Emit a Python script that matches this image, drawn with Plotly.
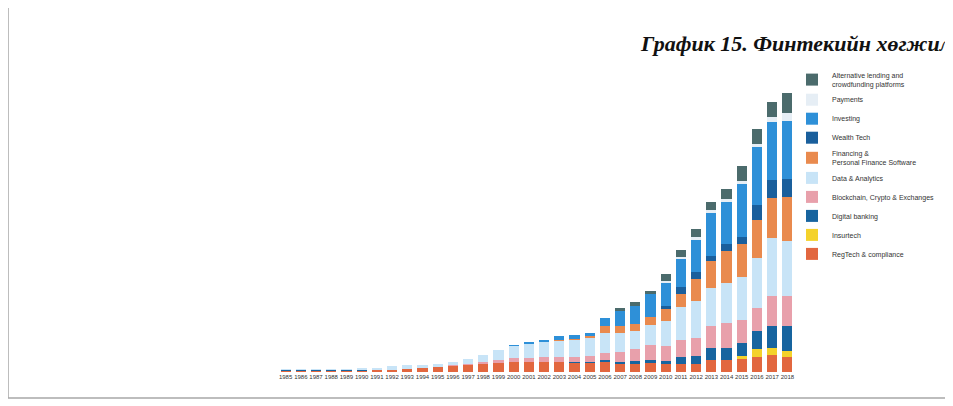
import plotly.graph_objects as go

years = [str(y) for y in range(1985, 2019)]

# segment values (stacked, bottom -> top)
regtech = [15, 15, 15, 15, 15, 15, 20, 20, 30, 40, 50, 60, 70, 80, 90, 100, 100, 100, 100, 90, 90, 100, 80, 80, 90, 80, 80, 80, 120, 120, 130, 150, 170, 150]
insurtech = [0, 0, 0, 0, 0, 0, 0, 0, 0, 0, 0, 0, 0, 0, 0, 0, 0, 0, 0, 0, 0, 0, 0, 0, 0, 0, 0, 0, 0, 0, 30, 80, 70, 60]
digital_bank = [5, 5, 5, 5, 5, 5, 5, 0, 0, 0, 0, 0, 0, 0, 0, 0, 0, 0, 0, 10, 10, 20, 20, 30, 30, 30, 70, 80, 120, 120, 130, 180, 220, 250]
blockchain = [0, 0, 0, 0, 0, 0, 0, 0, 0, 0, 0, 10, 10, 20, 30, 40, 40, 50, 50, 50, 60, 70, 100, 120, 150, 150, 170, 180, 220, 250, 230, 230, 300, 300]
data_analytics = [10, 10, 10, 10, 10, 15, 15, 40, 40, 30, 30, 30, 50, 70, 100, 120, 140, 150, 160, 170, 180, 200, 190, 180, 200, 250, 330, 370, 380, 400, 430, 500, 580, 550]
financing = [0, 0, 0, 0, 0, 0, 0, 0, 0, 0, 0, 0, 0, 0, 0, 0, 0, 0, 10, 10, 20, 70, 70, 70, 80, 120, 130, 220, 270, 320, 330, 380, 400, 440]
wealth_tech = [0, 0, 0, 0, 0, 0, 0, 0, 0, 0, 0, 0, 0, 0, 0, 0, 0, 0, 0, 0, 0, 0, 0, 0, 0, 30, 70, 70, 50, 70, 70, 150, 180, 180]
investing = [0, 0, 0, 0, 0, 0, 0, 0, 0, 0, 0, 0, 0, 0, 0, 10, 20, 20, 40, 40, 30, 80, 150, 180, 230, 230, 280, 320, 430, 420, 530, 580, 580, 580]
payments = [0, 0, 0, 0, 0, 0, 0, 0, 0, 0, 0, 0, 0, 0, 0, 0, 0, 0, 0, 0, 0, 0, 0, 0, 0, 20, 20, 30, 30, 30, 30, 30, 50, 80]
alt_lending = [0, 0, 0, 0, 0, 0, 0, 0, 0, 0, 0, 0, 0, 0, 0, 0, 0, 0, 0, 0, 0, 0, 30, 40, 30, 70, 70, 80, 80, 100, 150, 150, 150, 200]

series = [
    ("RegTech & compliance", regtech, "#e2673f"),
    ("Insurtech", insurtech, "#f4d22b"),
    ("Digital banking", digital_bank, "#17649f"),
    ("Blockchain, Crypto & Exchanges", blockchain, "#e8a0ab"),
    ("Data & Analytics", data_analytics, "#c8e4f7"),
    ("Financing &<br>Personal Finance Software", financing, "#e98a4e"),
    ("Wealth Tech", wealth_tech, "#1a5f9c"),
    ("Investing", investing, "#2e90d8"),
    ("Payments", payments, "#e6eef5"),
    ("Alternative lending and<br>crowdfunding platforms", alt_lending, "#4b6b6c"),
]

# the page body has an 8px margin, so the figure is drawn 8px right/down
OFF = 8
W_FIG, H_FIG = 953 - OFF, 406 - OFF
PLOT_LEFT, PLOT_RIGHT, PLOT_TOP, PLOT_BOTTOM = 278, 795, 80, 372  # window pixels
L = PLOT_LEFT - OFF
R = W_FIG - (PLOT_RIGHT - OFF)
T = PLOT_TOP - OFF
B = H_FIG - (PLOT_BOTTOM - OFF)
PW = W_FIG - L - R
PH = H_FIG - T - B


def px_x(p):
    return (p - OFF - L) / PW


def px_y(p):
    return (H_FIG - B - (p - OFF)) / PH


fig = go.Figure()
for name, vals, col in series:
    fig.add_trace(go.Bar(x=years, y=vals, name=name, marker=dict(color=col, line=dict(width=0))))

fig.update_layout(
    width=W_FIG, height=H_FIG,
    margin=dict(l=L, r=R, t=T, b=B, autoexpand=False),
    barmode="stack", bargap=0.33,
    plot_bgcolor="white", paper_bgcolor="white",
    font=dict(family="Liberation Sans, Arial, sans-serif", color="#333"),
    showlegend=True,
    legend=dict(x=px_x(792), y=px_y(64), xanchor="left", yanchor="top",
                font=dict(size=7, color="#333"), bgcolor="rgba(0,0,0,0)",
                traceorder="reversed", tracegroupgap=0, itemwidth=30,
                maxheight=0.95),
    xaxis=dict(type="category", tickangle=0, tickfont=dict(size=6, color="#333"),
               showgrid=False, showline=False, zeroline=False, ticks=""),
    yaxis=dict(visible=False, range=[0, PH * 10], showgrid=False),
    annotations=[dict(text="<b><i>График 15. Финтекийн хөгжил</i></b>",
                      xref="paper", yref="paper", x=px_x(638), y=px_y(43),
                      xanchor="left", yanchor="middle", showarrow=False,
                      font=dict(family="Liberation Serif, Times New Roman, serif", size=22, color="#111"))],
    shapes=[dict(type="rect", xref="paper", yref="paper",
                 x0=px_x(8), x1=px_x(948), y0=px_y(398), y1=px_y(-10),
                 line=dict(color="#a8a8a8", width=1.5), layer="below")],
)

fig.write_html("out.html")
